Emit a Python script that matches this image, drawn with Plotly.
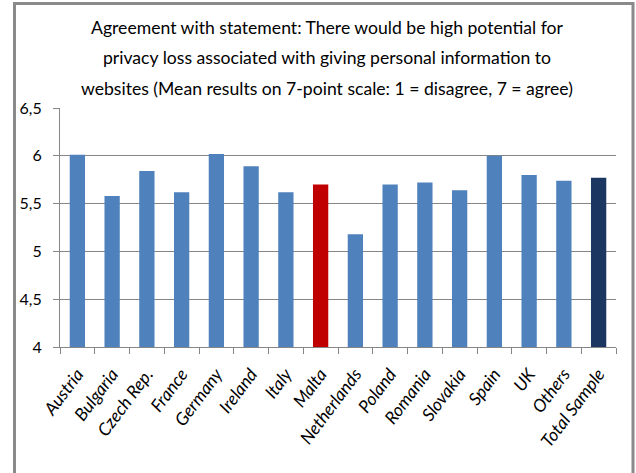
import plotly.graph_objects as go

countries = ["Austria", "Bulgaria", "Czech Rep.", "France", "Germany", "Ireland", "Italy", "Malta",
             "Netherlands", "Poland", "Romania", "Slovakia", "Spain", "UK", "Others", "Total Sample"]
values = [6.01, 5.58, 5.84, 5.62, 6.02, 5.89, 5.62, 5.70, 5.18, 5.70, 5.72, 5.64, 6.00, 5.80, 5.74, 5.77]
colors = ["#4F81BD"] * 7 + ["#C00000"] + ["#4F81BD"] * 7 + ["#1B3660"]
title_lines = [
    "Agreement with statement: There would be high potential for",
    "privacy loss associated with giving personal information to",
    "websites (Mean results on 7-point scale: 1 = disagree, 7 = agree)",
]
y_ticks = [4, 4.5, 5, 5.5, 6, 6.5]

FONT = "Lato, sans-serif"

fig = go.Figure(go.Bar(x=countries, y=values, marker=dict(color=colors, line=dict(width=0)),
                       width=0.44))

L, R, T, B = 60, 20, 108, 126
W, H = 636, 473
pw, ph = W - L - R, H - T - B

def px_x(px):
    return (px - L) / pw

def px_y(py):
    return (H - B - py) / ph

annos = []
for line, py in zip(title_lines, [27, 57, 88]):
    annos.append(dict(text=line, x=px_x(327), y=px_y(py), xref="paper", yref="paper",
                      showarrow=False, xanchor="center", yanchor="middle",
                      font=dict(family=FONT, size=17.6, color="black")))

fig.update_layout(
    width=W, height=H,
    margin=dict(l=L, r=R, t=T, b=B, autoexpand=False),
    paper_bgcolor="white", plot_bgcolor="white",
    separators=",.",
    showlegend=False,
    annotations=annos,
    shapes=[dict(type="rect", xref="paper", yref="paper",
                 x0=px_x(14.5), x1=px_x(633), y0=px_y(490), y1=px_y(3.5),
                 line=dict(color="#8A8A8A", width=3), fillcolor="rgba(0,0,0,0)", layer="above")],
    xaxis=dict(type="category", showgrid=False, showline=True, linecolor="#868686", linewidth=1,
               ticks="outside", tickson="boundaries", ticklen=6, tickcolor="#868686",
               automargin=False, ticklabelstandoff=9,
               tickvals=countries, ticktext=["<i>" + c + "</i>" for c in countries],
               tickangle=-53, tickfont=dict(family=FONT, size=17.5, color="black")),
    yaxis=dict(range=[4, 6.5], tickvals=y_ticks, showgrid=True, gridcolor="#868686", gridwidth=1,
               showline=True, linecolor="#868686", linewidth=1, ticks="outside", ticklen=6,
               tickcolor="#868686", zeroline=False, automargin=False, ticklabelstandoff=8,
               tickfont=dict(family=FONT, size=16, color="black")),
)

fig.write_html("out.html", config={"displayModeBar": False},
               post_script="document.body.style.margin='0';document.body.style.overflow='hidden';")
